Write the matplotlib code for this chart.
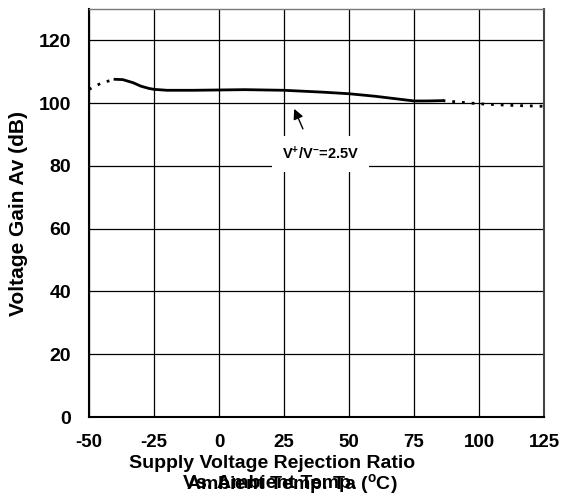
import matplotlib
matplotlib.use("Agg")
import matplotlib.pyplot as plt

plt.rcParams['font.family'] = ['Liberation Sans', 'DejaVu Sans']
plt.rcParams['font.weight'] = 'bold'
plt.rcParams['mathtext.fontset'] = 'custom'
plt.rcParams['mathtext.bf'] = 'Liberation Sans:bold'
plt.rcParams['mathtext.rm'] = 'Liberation Sans:bold'
plt.rcParams['mathtext.default'] = 'bf'
plt.rcParams['axes.unicode_minus'] = False

# Curve
temp_left = [-50, -45, -40]
gain_left = [104.4, 106.5, 107.6]
temp_mid = [-40, -37, -33, -30, -27, -25, -20, -10, 0, 10, 25, 40, 50, 60, 70, 75, 80, 86]
gain_mid = [107.6, 107.5, 106.5, 105.4, 104.7, 104.4, 104.1, 104.1, 104.2, 104.3, 104.1, 103.5, 103.0, 102.2, 101.2, 100.7, 100.7, 100.8]
temp_right = [86, 100, 112, 125]
gain_right = [100.8, 99.8, 99.3, 99.0]

xticks = [-50, -25, 0, 25, 50, 75, 100, 125]
yticks = [0, 20, 40, 60, 80, 100, 120]

fig = plt.figure(figsize=(5.63, 4.95), dpi=100)
ax = fig.add_axes([89 / 563, 1 - 417 / 495, 455 / 563, 408 / 495])

ax.plot(temp_left, gain_left, color='black', lw=2, ls=(0, (1, 2.5)))
ax.plot(temp_mid, gain_mid, color='black', lw=2)
ax.plot(temp_right, gain_right, color='black', lw=2, ls=(0, (1, 2.5)))

ax.set_xlim(-50, 125)
ax.set_ylim(0, 130)
ax.set_xticks(xticks)
ax.set_yticks(yticks)
ax.grid(True, color='black', lw=0.9)
ax.tick_params(length=0)
ax.tick_params(axis='y', labelsize=14, pad=13)
ax.tick_params(axis='x', labelsize=13.5, pad=12)
for s in ax.spines.values():
    s.set_linewidth(1.5)
ax.spines['top'].set_color('#777777')
ax.spines['top'].set_linewidth(1)
ax.spines['right'].set_color('#444444')

ax.set_ylabel('Voltage Gain Av (dB)', fontsize=15, fontweight='bold')
ax.yaxis.set_label_coords(-(89 - 28) / 455, (417 - 213) / 408)

ax.annotate('', xy=(28.5, 99), xytext=(32.7, 91),
            arrowprops=dict(arrowstyle='-|>', color='black', lw=1, mutation_scale=15))
ax.text(39, 83.8, 'V$^{+}$/V$^{-}$=2.5V', ha='center', va='center',
        fontsize=10.5, fontweight='bold',
        bbox=dict(facecolor='white', edgecolor='none', pad=7))

fig.text(272 / 563, 1 - 464 / 495, 'Supply Voltage Rejection Ratio', ha='center', va='center',
         fontsize=14, fontweight='bold')
fig.text(183 / 563, 1 - 484 / 495, 'Vs. Ambient Temp.', ha='left', va='center',
         fontsize=14, fontweight='bold')
fig.text(398 / 563, 1 - 484 / 495, 'Ambient Temp. Ta ($^{o}$C)', ha='right', va='center',
         fontsize=14, fontweight='bold')

fig.savefig('out.png', dpi=100)
